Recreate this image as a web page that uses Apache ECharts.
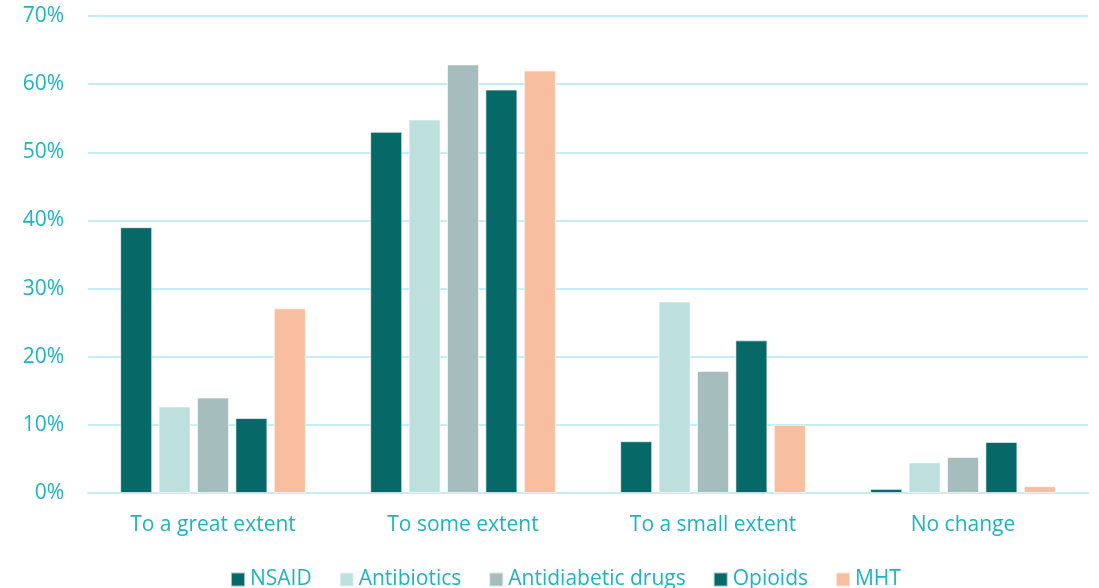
<!DOCTYPE html>
<html>
<head>
<meta charset="utf-8">
<script src="https://cdn.jsdelivr.net/npm/echarts@6/dist/echarts.min.js"></script>
<style>
  html, body { margin: 0; padding: 0; background: #fff; }
  #chart { width: 1099px; height: 588px; }
</style>
</head>
<body>
<div id="chart"></div>
<script>
// categories and series values (percent)
var categories = ['To a great extent', 'To some extent', 'To a small extent', 'No change'];
var nsaid = [39.0, 53.0, 7.6, 0.6];
var antibiotics = [12.7, 54.8, 28.1, 4.5];
var antidiabetic = [14.0, 62.9, 17.9, 5.3];
var opioids = [11.0, 59.2, 22.4, 7.5];
var mht = [27.1, 62.0, 10.0, 1.0];

var textColor = '#1fb3c1';
var fontName = '"Open Sans", sans-serif';

function bar(name, values, color) {
    return {
        name: name,
        type: 'bar',
        data: values,
        barWidth: 32,
        barGap: '20%',
        itemStyle: { color: color, borderColor: 'rgba(255,255,255,0.6)', borderWidth: 1 }
    };
}

var myChart = echarts.init(document.getElementById('chart'));
var option = {
    animation: false,
    grid: { left: 88, right: 11, top: 16, bottom: 95 },
    legend: {
        bottom: -7,
        left: 225,
        itemWidth: 14,
        itemHeight: 14,
        itemGap: 27,
        icon: 'rect',
        textStyle: { color: textColor, fontSize: 21, fontFamily: fontName }
    },
    xAxis: {
        type: 'category',
        data: categories,
        axisLine: { lineStyle: { color: '#c3eef5', width: 2 } },
        axisTick: { show: false },
        axisLabel: { color: textColor, fontSize: 21, fontFamily: fontName, margin: 22 }
    },
    yAxis: {
        type: 'value',
        min: 0,
        max: 70,
        interval: 10,
        axisLine: { show: false },
        axisTick: { show: false },
        splitLine: { lineStyle: { color: '#c3eef5', width: 2 } },
        axisLabel: { color: textColor, fontSize: 21, fontFamily: fontName, margin: 24, formatter: '{value}%' }
    },
    series: [
        bar('NSAID', nsaid, '#076868'),
        bar('Antibiotics', antibiotics, '#bde0de'),
        bar('Antidiabetic drugs', antidiabetic, '#a5bdbc'),
        bar('Opioids', opioids, '#076868'),
        bar('MHT', mht, '#f7be9f')
    ]
};
myChart.setOption(option);
</script>
</body>
</html>
